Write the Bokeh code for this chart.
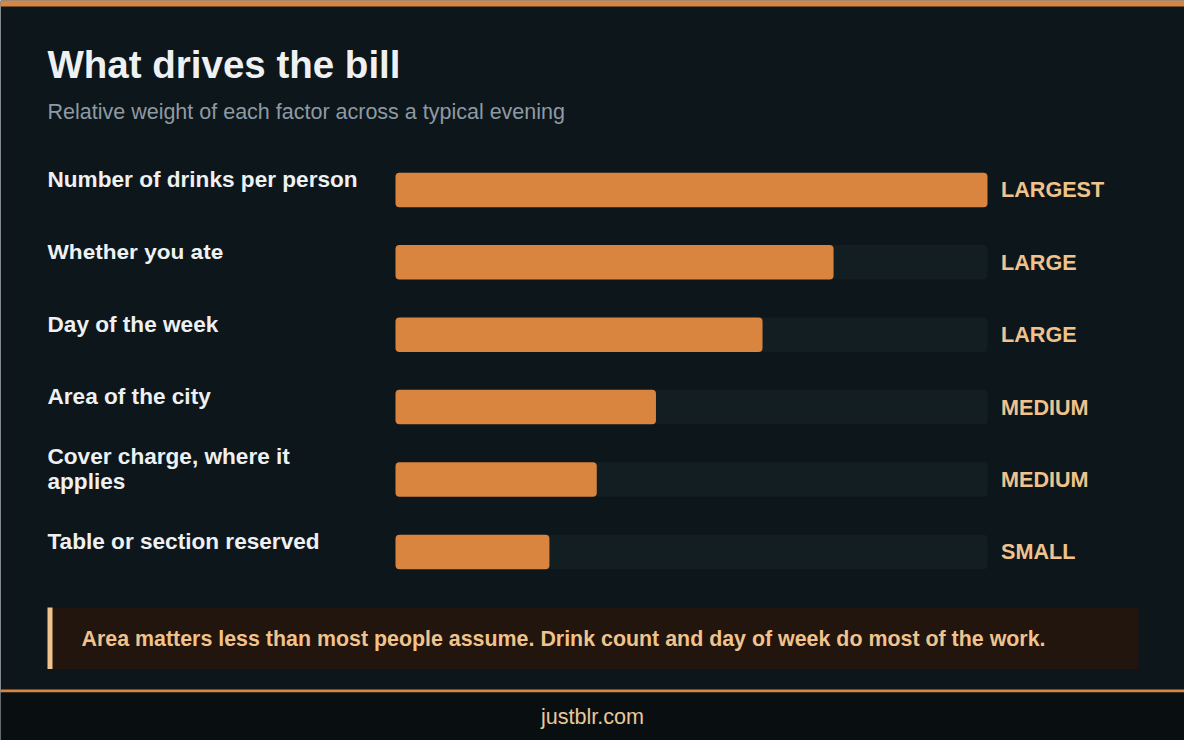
import numpy as np
from bokeh.plotting import figure
from bokeh.models import Range1d, ColumnDataSource
from bokeh.core.properties import value
from bokeh.embed import file_html
from bokeh.resources import INLINE

# ---- data -------------------------------------------------------------
factors = [
    "Number of drinks per person",
    "Whether you ate",
    "Day of the week",
    "Area of the city",
    "Cover charge, where it\napplies",
    "Table or section reserved",
]
weights = [100, 74, 62, 44, 34, 26]
levels = ["LARGEST", "LARGE", "LARGE", "MEDIUM", "MEDIUM", "SMALL"]
MAX_WEIGHT = 100

TITLE = "What drives the bill"
SUBTITLE = "Relative weight of each factor across a typical evening"
NOTE = "Area matters less than most people assume. Drink count and day of week do most of the work."
SOURCE = "justblr.com"

# ---- style / layout ---------------------------------------------------
FONT = "Liberation Sans"
BG = "#0c161b"
TRACK = "#131e23"
ORANGE = "#d9843f"
TEXT = "#eef0f1"
SUBTEXT = "#8e9aa3"
ACCENT = "#f0c38c"
NOTE_BG = "#21150d"
FOOT_BG = "#090e11"

W, H = 1184, 740
PAD = 47
TRACK_X0, TRACK_X1 = 395, 987
ROW0, ROW_STEP, BAR_H = 189.4, 72.4, 34.5
LABEL_PX, LINE_GAP = 22.6, 26.4

px_per_unit = (TRACK_X1 - TRACK_X0) / MAX_WEIGHT

p = figure(width=W, height=H, x_range=Range1d(0, W), y_range=Range1d(H, 0),
           x_axis_type=None, y_axis_type=None, min_border=0,
           toolbar_location=None, output_backend="svg",
           background_fill_color=BG, border_fill_color=BG, outline_line_color=None)

# value scale for the bars, row index scale for the categories
p.extra_x_ranges = {"val": Range1d(-TRACK_X0 / px_per_unit, (W - TRACK_X0) / px_per_unit)}
p.extra_y_ranges = {"row": Range1d((H - ROW0) / ROW_STEP, -ROW0 / ROW_STEP)}

# decoration: top stripe, note box, footer
p.quad(left=0, right=W, top=0, bottom=6, fill_color=ORANGE, line_color=None)
p.quad(left=PAD, right=1138, top=607, bottom=668.5, fill_color=NOTE_BG, line_color=None)
p.quad(left=PAD, right=PAD + 5, top=607, bottom=668.5, fill_color=ACCENT, line_color=None)
p.quad(left=0, right=W, top=689, bottom=692, fill_color=ORANGE, line_color=None)
p.quad(left=0, right=W, top=692, bottom=H, fill_color=FOOT_BG, line_color=None)

# heading
p.text(x=[PAD], y=[42], text=[TITLE], text_font=value(FONT), text_font_size="38.5px",
       text_font_style="bold", text_color=TEXT, text_baseline="top")
p.text(x=[PAD], y=[99.5], text=[SUBTITLE], text_font=value(FONT), text_font_size="21.5px",
       text_color=SUBTEXT, text_baseline="top")

# bars
n_lines = [f.count("\n") + 1 for f in factors]
src = ColumnDataSource(dict(row=list(range(len(factors))), factor=factors,
                            weight=weights, level=levels,
                            full=[MAX_WEIGHT] * len(factors),
                            lab_off=[-22.8 - (k - 1) * LINE_GAP / 2 for k in n_lines]))
bh = BAR_H / ROW_STEP
p.hbar(y="row", left=0, right="full", height=bh, source=src, fill_color=TRACK,
       line_color=None, border_radius=4, x_range_name="val", y_range_name="row")
p.hbar(y="row", left=0, right="weight", height=bh, source=src, fill_color=ORANGE,
       line_color=None, border_radius=4, x_range_name="val", y_range_name="row")

# row labels and level labels
p.text(x=PAD, y="row", text="factor", source=src, y_range_name="row",
       text_font=value(FONT), text_font_size=f"{LABEL_PX}px", text_font_style="bold",
       text_color=TEXT, text_baseline="top", y_offset="lab_off",
       text_line_height=LINE_GAP / (LABEL_PX * 1.149))
p.text(x=TRACK_X1 + 13.5, y="row", text="level", source=src, y_range_name="row",
       text_font=value(FONT), text_font_size="21.6px", text_font_style="bold",
       text_color=ACCENT, text_baseline="middle")

# note and footer text
p.text(x=[81], y=[638], text=[NOTE], text_font=value(FONT), text_font_size="21.4px",
       text_font_style="bold", text_color=ACCENT, text_baseline="middle")
p.text(x=[W / 2], y=[715.5], text=[SOURCE], text_font=value(FONT), text_font_size="21.6px",
       text_color="#e9c898", text_align="center", text_baseline="middle")

open("out.html", "w").write(file_html(p, INLINE))
